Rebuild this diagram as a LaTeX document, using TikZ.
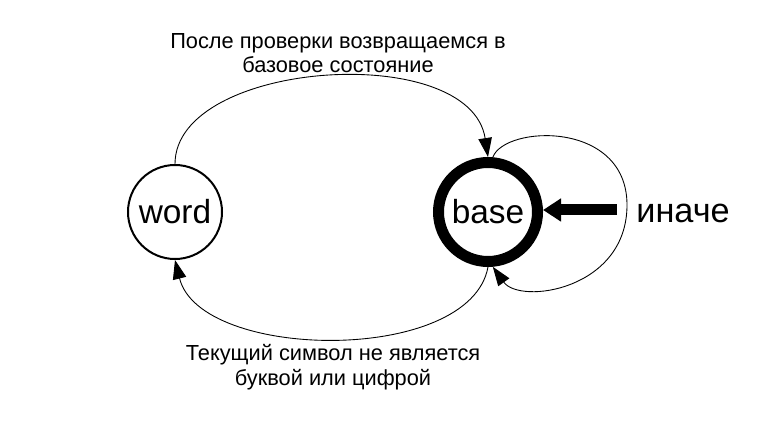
\documentclass[tikz,border=0pt]{standalone}
\usepackage{fontspec}
\setmainfont{Liberation Sans}
\usetikzlibrary{arrows.meta}

\begin{document}
\begin{tikzpicture}[x=1cm,y=1cm,state/.style={circle,draw=black,line width=0.04cm,fill=white,minimum size=1.880cm,inner sep=0pt,font=\fontsize{19pt}{22pt}\selectfont},basestate/.style={state,line width=0.22cm,minimum size=1.980cm},lbl/.style={align=center,inner sep=0pt,font=\fontsize{12.4pt}{14pt}\selectfont},edge/.style={draw=black,line width=0.5pt,-{Triangle[length=0.38cm,width=0.27cm]}},entry/.style={draw=black,line width=0.22cm,-{Triangle[length=0.36cm,width=0.44cm]}}]
\useasboundingbox (0,0) rectangle (15.360,-8.440);
\node[state] (word) at (3.500,-4.240) {word};
\node[basestate] (base) at (9.760,-4.240) {base};
\coordinate (entrystart) at (12.340,-4.200);
\node[inner sep=0pt,font=\fontsize{19.5pt}{22pt}\selectfont] (otherwise) at (13.660,-4.260) {иначе};
\node[lbl] (lbltop) at (6.760,-1.060) {После проверки возвращаемся в\\базовое состояние};
\node[lbl] (lblbot) at (6.660,-7.340) {Текущий символ не является\\буквой или цифрой};
\draw[edge] (word.north) .. controls (3.500,-1.200) and (9.400,-0.800) .. (base.north);
\draw[edge] (base.south) .. controls (9.400,-7.300) and (4.000,-7.220) .. (word.south);
\draw[edge] (base.85) .. controls (10.100,-2.500) and (12.540,-2.400) .. (12.540,-4.100) .. controls (12.540,-5.800) and (10.400,-6.100) .. (base.-85);
\draw[entry] (entrystart) -- (entrystart -| base.east);
\end{tikzpicture}
\end{document}
